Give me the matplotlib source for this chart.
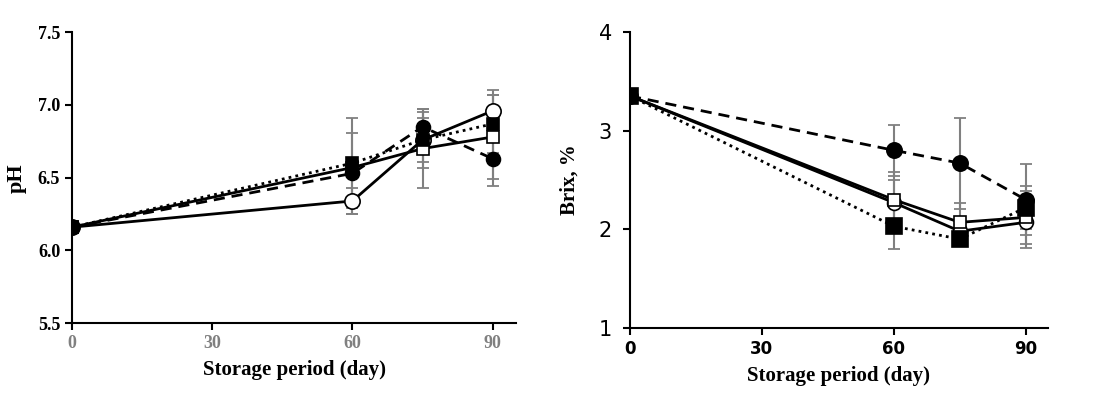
import numpy as np
import matplotlib
matplotlib.use('Agg')
import matplotlib.pyplot as plt

plt.rcParams['font.family'] = ['Liberation Serif', 'DejaVu Serif']

# ===== data =====
days = [0, 60, 75, 90]

# pH
ph_open_circle = [6.16, 6.34, 6.76, 6.96]
ph_open_circle_err = [0.0, 0.09, 0.15, 0.14]
ph_open_square = [6.16, 6.57, 6.70, 6.78]
ph_open_square_err = [0.0, 0.05, 0.27, 0.29]
ph_fill_square = [6.16, 6.60, 6.76, 6.87]
ph_fill_square_err = [0.0, 0.31, 0.19, 0.20]
ph_fill_circle = [6.16, 6.53, 6.85, 6.63]
ph_fill_circle_err = [0.0, 0.28, 0.12, 0.19]

# Brix
bx_fill_circle = [3.35, 2.80, 2.67, 2.30]
bx_fill_circle_err = [0.0, 0.26, 0.46, 0.36]
bx_open_circle = [3.35, 2.27, 1.98, 2.07]
bx_open_circle_err = [0.0, 0.23, 0.14, 0.26]
bx_open_square = [3.35, 2.30, 2.07, 2.12]
bx_open_square_err = [0.0, 0.28, 0.20, 0.27]
bx_fill_square = [3.35, 2.03, 1.90, 2.22]
bx_fill_square_err = [0.0, 0.23, 0.06, 0.22]

x_ticks = [0, 30, 60, 90]
ph_ticks = [5.5, 6.0, 6.5, 7.0, 7.5]
bx_ticks = [1, 2, 3, 4]

fig = plt.figure(figsize=(11.02, 3.98), dpi=100)
ax1 = fig.add_axes([0.0653, 0.188, 0.403, 0.731])
ax2 = fig.add_axes([0.5717, 0.176, 0.379, 0.744])


def draw(ax, y, err, ls, marker, mfc, ms):
    ax.errorbar(days, y, yerr=err, fmt='none', ecolor='#808080',
                elinewidth=1.5, capsize=4, capthick=1.3, zorder=1)
    ax.plot(days, y, linestyle=ls, color='black', linewidth=2,
            marker=marker, markersize=ms, markerfacecolor=mfc,
            markeredgecolor='black', markeredgewidth=1.2, zorder=2)


dash = (0, (4, 2.5))
dot = (0, (1, 1.5))

# 左图 pH
draw(ax1, ph_open_circle, ph_open_circle_err, '-', 'o', 'white', 11)
draw(ax1, ph_open_square, ph_open_square_err, '-', 's', 'white', 8)
draw(ax1, ph_fill_square, ph_fill_square_err, dot, 's', 'black', 9)
draw(ax1, ph_fill_circle, ph_fill_circle_err, dash, 'o', 'black', 10)

# 右图 Brix
draw(ax2, bx_fill_circle, bx_fill_circle_err, dash, 'o', 'black', 11)
draw(ax2, bx_open_circle, bx_open_circle_err, '-', 'o', 'white', 10)
draw(ax2, bx_open_square, bx_open_square_err, '-', 's', 'white', 9)
draw(ax2, bx_fill_square, bx_fill_square_err, dot, 's', 'black', 11)

for ax in (ax1, ax2):
    ax.set_xlim(0, 95)
    ax.set_xticks(x_ticks)
    ax.spines['top'].set_visible(False)
    ax.spines['right'].set_visible(False)
    ax.spines['left'].set_linewidth(1.5)
    ax.spines['bottom'].set_linewidth(1.5)
    ax.tick_params(direction='out', width=1.5, length=5)
    ax.set_xlabel('Storage period (day)', fontsize=15, fontweight='bold', labelpad=6)

ax1.set_ylim(5.5, 7.5)
ax1.set_yticks(ph_ticks)
ax1.set_yticklabels([f"{v:.1f}" for v in ph_ticks], fontsize=13, fontweight='bold')
ax1.set_xticklabels([str(v) for v in x_ticks], fontsize=13, fontweight='bold', color='#808080')
ax1.set_ylabel('pH', fontsize=16, fontweight='bold', labelpad=8)

ax2.set_ylim(1, 4)
ax2.set_yticks(bx_ticks)
ax2.set_yticklabels([str(v) for v in bx_ticks], fontsize=15, family='DejaVu Sans')
ax2.tick_params(axis='y', pad=8)
ax2.set_xticklabels([str(v) for v in x_ticks], fontsize=12, fontweight='bold', family='DejaVu Sans')
ax2.set_ylabel('Brix, %', fontsize=15, fontweight='bold', labelpad=14)

fig.savefig('out.png', dpi=100)
